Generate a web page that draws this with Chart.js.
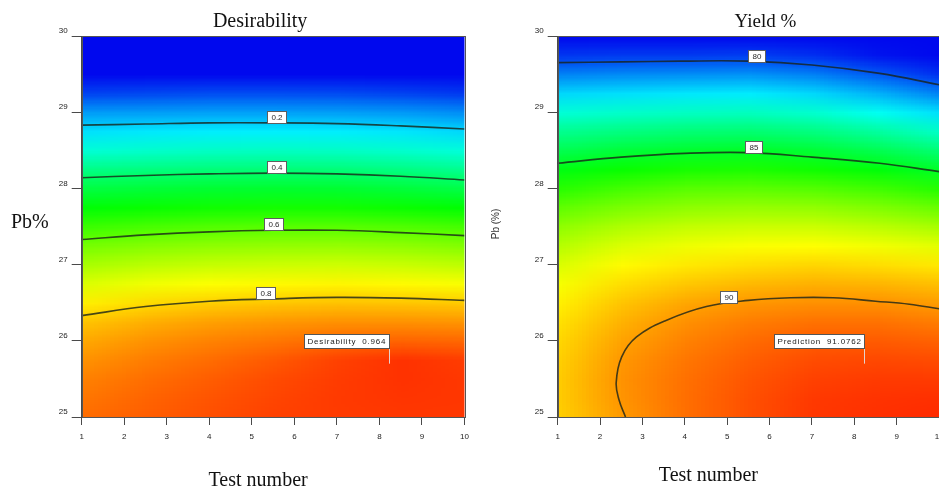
<!DOCTYPE html>
<html>
<head>
<meta charset="utf-8">
<script src="https://cdn.jsdelivr.net/npm/chart.js@4.4.1/dist/chart.umd.min.js"></script>
<style>
  html, body { margin: 0; padding: 0; background: #fff; overflow: hidden; width: 939px; height: 490px; }
  #wrap { position: relative; width: 939px; height: 490px; overflow: hidden; }
  canvas { position: absolute; top: 0; }
  #desirabilityChart { left: 0; }
  #yieldChart { left: 480px; }
</style>
</head>
<body>
<div id="wrap">
  <canvas id="desirabilityChart" width="480" height="490"></canvas>
  <canvas id="yieldChart" width="480" height="490"></canvas>
</div>
<script>
// ---- response surface grid: test number (columns) x Pb % (rows, top to bottom) ----
const testNumbers = [1, 2.5, 4, 5.5, 7, 8.5, 10];
const pbLevels = [30, 29.75, 29.5, 29.25, 29, 28.75, 28.5, 28.25, 28, 27.75, 27.5,
                  27.25, 27, 26.75, 26.5, 26.25, 26, 25.75, 25.5, 25.25, 25];

const desirabilityGrid = [
  [0, 0, 0, 0, 0, 0, 0],
  [0, 0, 0, 0, 0, 0, 0],
  [0, 0, 0, 0, 0, 0, 0],
  [0.06, 0.065, 0.07, 0.07, 0.068, 0.06, 0.05],
  [0.15, 0.152, 0.155, 0.155, 0.153, 0.147, 0.135],
  [0.22, 0.228, 0.233, 0.235, 0.233, 0.225, 0.21],
  [0.29, 0.30, 0.307, 0.31, 0.307, 0.298, 0.285],
  [0.37, 0.377, 0.383, 0.385, 0.383, 0.374, 0.36],
  [0.435, 0.445, 0.452, 0.455, 0.453, 0.443, 0.43],
  [0.495, 0.508, 0.516, 0.52, 0.519, 0.51, 0.497],
  [0.557, 0.571, 0.58, 0.585, 0.585, 0.578, 0.567],
  [0.616, 0.63, 0.64, 0.645, 0.647, 0.64, 0.628],
  [0.666, 0.683, 0.694, 0.70, 0.703, 0.697, 0.686],
  [0.716, 0.736, 0.748, 0.755, 0.759, 0.754, 0.745],
  [0.766, 0.788, 0.802, 0.81, 0.814, 0.811, 0.806],
  [0.812, 0.834, 0.85, 0.86, 0.866, 0.866, 0.862],
  [0.842, 0.865, 0.882, 0.895, 0.908, 0.915, 0.91],
  [0.865, 0.887, 0.905, 0.925, 0.95, 0.966, 0.955],
  [0.883, 0.903, 0.921, 0.94, 0.956, 0.966, 0.96],
  [0.895, 0.913, 0.93, 0.946, 0.958, 0.963, 0.961],
  [0.905, 0.92, 0.936, 0.95, 0.957, 0.96, 0.96]
];

const yieldGrid = [
  [78.7, 78.8, 78.9, 78.9, 78.7, 78.4, 78.0],
  [79.6, 79.65, 79.65, 79.7, 79.5, 79.15, 78.7],
  [80.6, 80.7, 80.75, 80.8, 80.55, 80.05, 79.5],
  [81.7, 81.8, 81.9, 81.95, 81.7, 81.2, 80.6],
  [82.7, 82.85, 82.95, 83.0, 82.8, 82.35, 81.8],
  [83.6, 83.8, 83.95, 84.0, 83.8, 83.4, 82.9],
  [84.4, 84.7, 84.85, 84.92, 84.75, 84.4, 83.95],
  [85.2, 85.5, 85.7, 85.75, 85.6, 85.3, 84.9],
  [85.9, 86.25, 86.5, 86.55, 86.45, 86.2, 85.85],
  [86.6, 86.95, 87.2, 87.3, 87.25, 87.0, 86.7],
  [87.2, 87.6, 87.85, 87.95, 87.95, 87.75, 87.5],
  [87.7, 88.15, 88.4, 88.55, 88.6, 88.45, 88.25],
  [88.15, 88.65, 88.9, 89.05, 89.15, 89.05, 88.9],
  [88.5, 89.05, 89.35, 89.55, 89.65, 89.6, 89.45],
  [88.8, 89.4, 89.8, 90.02, 90.1, 90.08, 89.92],
  [89.0, 89.65, 90.1, 90.35, 90.5, 90.5, 90.35],
  [89.15, 89.85, 90.3, 90.6, 90.8, 90.82, 90.72],
  [89.25, 90.0, 90.45, 90.78, 91.02, 91.07, 91.02],
  [89.3, 90.07, 90.53, 90.9, 91.17, 91.25, 91.25],
  [89.3, 90.05, 90.56, 90.96, 91.27, 91.36, 91.4],
  [89.25, 89.97, 90.55, 90.98, 91.3, 91.4, 91.48]
];

// ---- contour lines: [test number, Pb %] ----
const desirability02 = [[1, 28.83], [2.5, 28.845], [4, 28.86], [5.5, 28.86], [7, 28.85], [8.5, 28.82], [10, 28.78]];
const desirability04 = [[1, 28.14], [2.5, 28.17], [4, 28.19], [5.5, 28.2], [7, 28.19], [8.5, 28.16], [10, 28.11]];
const desirability06 = [[1, 27.33], [2.5, 27.39], [4, 27.43], [5.5, 27.45], [7, 27.45], [8.5, 27.42], [10, 27.38]];
const desirability08 = [[1, 26.33], [2.5, 26.45], [4, 26.52], [5.5, 26.55], [7, 26.57], [8.5, 26.56], [10, 26.53]];

const yield80 = [[1, 29.65], [2.5, 29.66], [3.9, 29.67], [5.5, 29.67], [7, 29.62], [8.6, 29.51], [10, 29.36]];
const yield85 = [[1, 28.33], [2.5, 28.41], [4, 28.46], [5.5, 28.47], [7, 28.41], [8.6, 28.33], [10, 28.22]];
const yield90 = [[2.6, 25.0], [2.45, 25.22], [2.38, 25.45], [2.51, 25.79], [2.86, 26.05], [3.57, 26.27],
                 [4.51, 26.45], [5.5, 26.53], [6.5, 26.565], [7.5, 26.565], [8.5, 26.52], [9.3, 26.48], [10, 26.42]];

// ---- selected optimum ----
const optimumPoint = [8.22, 25.7];
const optimumDesirability = 0.964;
const optimumYield = 91.0762;

// ---- axis ticks ----
const testNumberTicks = [1, 2, 3, 4, 5, 6, 7, 8, 9, 10];
const pbTicks = [25, 26, 27, 28, 29, 30];

// blue -> cyan -> green -> yellow -> red colour ramp
const RAMP = [[0, [0, 8, 238]], [0.25, [0, 255, 255]], [0.5, [0, 255, 0]], [0.75, [255, 255, 0]], [1, [255, 18, 0]]];
function rampColor(t) {
  t = Math.max(0, Math.min(1, t));
  for (let k = 0; k < RAMP.length - 1; k++) {
    const [t0, c0] = RAMP[k], [t1, c1] = RAMP[k + 1];
    if (t <= t1) {
      const f = (t - t0) / (t1 - t0);
      return c0.map((v, i) => Math.round(v + (c1[i] - v) * f));
    }
  }
  return RAMP[RAMP.length - 1][1];
}

// paints the response grid behind the contour lines, placed with the chart scales
const surfacePlugin = {
  id: 'surface',
  beforeDatasetsDraw(chart, args, opts) {
    const { ctx, chartArea: a, scales: { x, y } } = chart;
    const xs = opts.xs, ys = opts.ys, grid = opts.grid;
    const nx = xs.length, ny = ys.length;
    const off = document.createElement('canvas');
    off.width = nx; off.height = ny;
    const octx = off.getContext('2d');
    const img = octx.createImageData(nx, ny);
    for (let j = 0; j < ny; j++) {
      for (let i = 0; i < nx; i++) {
        const c = rampColor((grid[j][i] - opts.min) / (opts.max - opts.min));
        const p = (j * nx + i) * 4;
        img.data[p] = c[0]; img.data[p + 1] = c[1]; img.data[p + 2] = c[2]; img.data[p + 3] = 255;
      }
    }
    octx.putImageData(img, 0, 0);
    const x0 = x.getPixelForValue(xs[0]), x1 = x.getPixelForValue(xs[nx - 1]);
    const y0 = y.getPixelForValue(ys[0]), y1 = y.getPixelForValue(ys[ny - 1]);
    ctx.save();
    ctx.beginPath();
    ctx.rect(a.left, a.top, a.right - a.left, a.bottom - a.top);
    ctx.clip();
    ctx.imageSmoothingEnabled = true;
    ctx.drawImage(off, 0.5, 0.5, nx - 1, ny - 1, x0, y0, x1 - x0, y1 - y0);
    ctx.restore();
  },
  afterDatasetsDraw(chart) {
    const { ctx, chartArea: a } = chart;
    ctx.save();
    ctx.strokeStyle = '#555';
    ctx.lineWidth = 1;
    ctx.strokeRect(Math.round(a.left) + 0.5, Math.round(a.top) + 0.5,
                   Math.round(a.right - a.left), Math.round(a.bottom - a.top));
    ctx.restore();
  }
};

// boxed level value sitting on each contour line
const contourLabelPlugin = {
  id: 'contourLabels',
  afterDatasetsDraw(chart) {
    const { ctx } = chart;
    chart.data.datasets.forEach((ds, i) => {
      if (!ds.levelText) return;
      const pts = chart.getDatasetMeta(i).data;
      const px = chart.scales.x.getPixelForValue(ds.labelAt);
      let py = null;
      for (let k = 0; k < pts.length - 1 && py === null; k++) {
        const p0 = pts[k], p1 = pts[k + 1];
        if ((px - p0.x) * (px - p1.x) <= 0 && p1.x !== p0.x) {
          py = p0.y + (p1.y - p0.y) * (px - p0.x) / (p1.x - p0.x);
        }
      }
      if (py === null) return;
      ctx.save();
      ctx.font = '8px "Liberation Sans", Arial, sans-serif';
      const w = Math.round(ctx.measureText(ds.levelText).width + 8);
      const h = 12;
      const bx = Math.round(px - w / 2) + 0.5, by = Math.round(py - h) + 0.5;
      ctx.fillStyle = '#ffffff';
      ctx.fillRect(bx, by, w, h);
      ctx.strokeStyle = '#5e5e5e';
      ctx.lineWidth = 1;
      ctx.strokeRect(bx, by, w, h);
      ctx.fillStyle = '#2a2a2a';
      ctx.textAlign = 'center';
      ctx.textBaseline = 'middle';
      ctx.fillText(ds.levelText, bx + w / 2, by + h / 2 + 0.5);
      ctx.restore();
    });
  }
};

// flag showing the predicted value at the selected point
const flagPlugin = {
  id: 'flag',
  afterDatasetsDraw(chart, args, opts) {
    if (!opts.text) return;
    const { ctx, scales: { x, y } } = chart;
    const px = Math.round(x.getPixelForValue(opts.at[0])) + 0.5;
    const py = y.getPixelForValue(opts.at[1]);
    ctx.save();
    ctx.font = '8px "Liberation Sans", Arial, sans-serif';
    ctx.letterSpacing = '0.8px';
    const w = Math.round(ctx.measureText(opts.text).width + 6);
    const h = 14;
    const bottom = Math.round(py - 16) + 0.5;
    const bx = px - w, by = bottom - h;
    ctx.strokeStyle = 'rgba(225,225,225,0.9)';
    ctx.lineWidth = 1;
    ctx.beginPath();
    ctx.moveTo(px, bottom);
    ctx.lineTo(px, py);
    ctx.stroke();
    ctx.fillStyle = '#ffffff';
    ctx.fillRect(bx, by, w, h);
    ctx.strokeStyle = '#555';
    ctx.strokeRect(bx, by, w, h);
    ctx.fillStyle = '#1a1a1a';
    ctx.textAlign = 'left';
    ctx.textBaseline = 'middle';
    ctx.fillText(opts.text, bx + 3, by + h / 2 + 0.5);
    ctx.restore();
  }
};

// panel title and axis titles
const captionPlugin = {
  id: 'captions',
  afterDraw(chart, args, opts) {
    const { ctx, chartArea: a } = chart;
    const cx = (a.left + a.right) / 2;
    ctx.save();
    ctx.fillStyle = '#111';
    ctx.textBaseline = 'alphabetic';
    ctx.textAlign = 'center';
    ctx.font = opts.titleFont;
    ctx.fillText(opts.title, cx + opts.titleDx, a.top - 9);
    ctx.font = '20px "Liberation Serif", "Times New Roman", serif';
    ctx.fillText(opts.xTitle, cx + opts.xTitleDx, a.bottom + opts.xTitleDy);
    if (opts.yRotated) {
      ctx.font = '10px "Liberation Sans", Arial, sans-serif';
      ctx.fillStyle = '#333';
      ctx.translate(opts.yTitleX, opts.yTitleY);
      ctx.rotate(-Math.PI / 2);
      ctx.textBaseline = 'middle';
      ctx.fillText(opts.yTitle, 0, 0);
    } else {
      ctx.font = '20px "Liberation Serif", "Times New Roman", serif';
      ctx.textAlign = 'left';
      ctx.fillText(opts.yTitle, opts.yTitleX, opts.yTitleY);
    }
    ctx.restore();
  }
};

const TICK_FONT = { family: '"Liberation Sans", Arial, sans-serif', size: 8 };
const TICK_COLOR = '#222';
const CONTOUR_STYLE = { borderColor: 'rgba(25,35,25,0.8)', borderWidth: 1.6, pointRadius: 0, tension: 0.4, fill: false };

function toPoints(arr) { return arr.map(p => ({ x: p[0], y: p[1] })); }

function buildChart(id, cfg) {
  return new Chart(document.getElementById(id), {
    type: 'line',
    data: {
      datasets: cfg.contours.map(c => Object.assign({
        data: toPoints(c.points), levelText: c.text, labelAt: c.labelAt
      }, CONTOUR_STYLE))
    },
    options: {
      responsive: false,
      animation: false,
      events: [],
      layout: { padding: { top: 36, right: cfg.padRight, left: 0, bottom: 0 } },
      plugins: {
        legend: { display: false },
        tooltip: { enabled: false },
        surface: { xs: testNumbers, ys: pbLevels, grid: cfg.grid, min: cfg.min, max: cfg.max },
        flag: { at: optimumPoint, text: cfg.flagText },
        captions: cfg.captions
      },
      scales: {
        x: {
          type: 'linear', min: 1, max: 10,
          afterFit: s => { s.height = 73; },
          afterBuildTicks: s => { s.ticks = testNumberTicks.map(v => ({ value: v })); },
          ticks: { font: TICK_FONT, color: TICK_COLOR, padding: 7, maxRotation: 0, autoSkip: false },
          grid: { drawOnChartArea: false, drawTicks: true, tickLength: 8, color: '#4a4a4a' },
          border: { color: '#4a4a4a' }
        },
        y: {
          type: 'linear', min: 25, max: 30,
          afterFit: s => { s.width = cfg.yWidth; },
          afterBuildTicks: s => { s.ticks = pbTicks.map(v => ({ value: v })); },
          ticks: { font: TICK_FONT, color: TICK_COLOR, padding: 4, labelOffset: -5 },
          grid: { drawOnChartArea: false, drawTicks: true, tickLength: 10, color: '#4a4a4a' },
          border: { color: '#4a4a4a' }
        }
      }
    },
    plugins: [surfacePlugin, contourLabelPlugin, flagPlugin, captionPlugin]
  });
}

buildChart('desirabilityChart', {
  grid: desirabilityGrid, min: 0, max: 1,
  yWidth: 81.7, padRight: 15.5,
  contours: [
    { points: desirability02, text: '0.2', labelAt: 5.57 },
    { points: desirability04, text: '0.4', labelAt: 5.57 },
    { points: desirability06, text: '0.6', labelAt: 5.5 },
    { points: desirability08, text: '0.8', labelAt: 5.32 }
  ],
  flagText: 'Desirability  ' + optimumDesirability.toFixed(3),
  captions: {
    title: 'Desirability', titleDx: -13, titleFont: '20px "Liberation Serif", "Times New Roman", serif',
    xTitle: 'Test number', xTitleDx: -15, xTitleDy: 69,
    yTitle: 'Pb%', yTitleX: 11, yTitleY: 228, yRotated: false
  }
});

buildChart('yieldChart', {
  grid: yieldGrid, min: 79, max: 91.8,
  yWidth: 77.7, padRight: 20.9,
  contours: [
    { points: yield80, text: '80', labelAt: 5.68 },
    { points: yield85, text: '85', labelAt: 5.61 },
    { points: yield90, text: '90', labelAt: 5.02 }
  ],
  flagText: 'Prediction  ' + optimumYield.toFixed(4),
  captions: {
    title: 'Yield %', titleDx: 17, titleFont: '19px "Liberation Serif", "Times New Roman", serif',
    xTitle: 'Test number', xTitleDx: -40, xTitleDy: 64,
    yTitle: 'Pb (%)', yTitleX: 16, yTitleY: 224, yRotated: true
  }
});
</script>
</body>
</html>
